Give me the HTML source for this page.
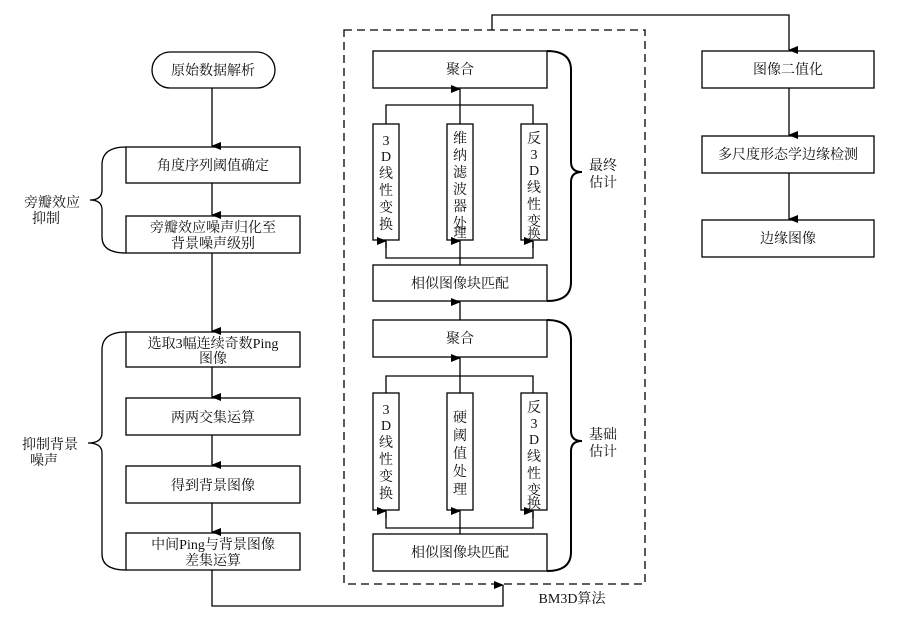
<!DOCTYPE html>
<html><head><meta charset="utf-8"><style>
body{margin:0;background:#fff;}
svg text{font-family:"Liberation Serif","Noto Serif CJK SC","Noto Sans CJK SC",serif;font-size:14px;fill:#111;}
</style></head><body>
<svg width="909" height="616" viewBox="0 0 909 616" xmlns="http://www.w3.org/2000/svg">
<defs><marker id="a" markerWidth="8" markerHeight="10" refX="4" refY="9" orient="auto" markerUnits="userSpaceOnUse" viewBox="0 0 8 10"><path d="M0,0 L8,0 L4,10 z" fill="#000"/></marker>
<marker id="u" markerWidth="8" markerHeight="10" refX="4" refY="1" orient="auto" markerUnits="userSpaceOnUse" viewBox="0 0 8 10"><path d="M0,10 L8,10 L4,0 z" fill="#000"/></marker></defs>
<g fill="none" stroke="#000" stroke-width="1.3">
<!-- left column -->
<rect x="152" y="52" width="123" height="36" rx="18" fill="#fff"/>
<line x1="212" y1="88" x2="212" y2="146" marker-end="url(#a)"/>
<rect x="126" y="147" width="174" height="36"/>
<line x1="212" y1="183" x2="212" y2="215" marker-end="url(#a)"/>
<rect x="126" y="216" width="174" height="37"/>
<line x1="212" y1="253" x2="212" y2="331" marker-end="url(#a)"/>
<rect x="126" y="332" width="174" height="35"/>
<line x1="212" y1="367" x2="212" y2="397" marker-end="url(#a)"/>
<rect x="126" y="398" width="174" height="37"/>
<line x1="212" y1="435" x2="212" y2="465" marker-end="url(#a)"/>
<rect x="126" y="466" width="174" height="37"/>
<line x1="212" y1="503" x2="212" y2="532" marker-end="url(#a)"/>
<rect x="126" y="533" width="174" height="37"/>
<polyline points="212,570 212,606 503,606 503,585" marker-end="url(#a)"/>
<path d="M126,147 Q102,147 102,165 L102,190 Q102,200 90,200 Q102,200 102,210 L102,237 Q102,253 126,253"/>
<path d="M126,332 Q102,332 102,350 L102,433 Q102,443 88,443 Q102,443 102,453 L102,554 Q102,570 126,570"/>
<!-- dashed -->
<rect x="344" y="30" width="301" height="554" stroke-dasharray="8,5"/>
<polyline points="492,30 492,15 789,15 789,50" marker-end="url(#a)"/>
<!-- upper block -->
<rect x="373" y="51" width="174" height="37"/>
<line x1="460" y1="124" x2="460" y2="89" marker-end="url(#a)"/>
<polyline points="386,124 386,105 533,105 533,124"/>
<rect x="373" y="124" width="26" height="116"/>
<rect x="447" y="124" width="26" height="116"/>
<rect x="521" y="124" width="26" height="116"/>
<line x1="460" y1="265" x2="460" y2="241" marker-end="url(#a)"/>
<polyline points="386,241 386,258 533,258 533,241"/>
<line x1="386" y1="248" x2="386" y2="241" marker-end="url(#a)"/>
<line x1="533" y1="248" x2="533" y2="241" marker-end="url(#a)"/>
<rect x="373" y="265" width="174" height="36"/>
<path d="M547,51 Q571,51 571,70 L571,162 Q571,172 582,172 Q571,172 571,182 L571,282 Q571,301 547,301" stroke-width="2"/>
<!-- lower block -->
<line x1="460" y1="320" x2="460" y2="302" marker-end="url(#a)"/>
<rect x="373" y="320" width="174" height="37"/>
<line x1="460" y1="393" x2="460" y2="358" marker-end="url(#a)"/>
<polyline points="386,393 386,376 533,376 533,393"/>
<rect x="373" y="393" width="26" height="117"/>
<rect x="447" y="393" width="26" height="117"/>
<rect x="521" y="393" width="26" height="117"/>
<line x1="460" y1="534" x2="460" y2="511" marker-end="url(#a)"/>
<polyline points="386,511 386,528 533,528 533,511"/>
<line x1="386" y1="518" x2="386" y2="511" marker-end="url(#a)"/>
<line x1="533" y1="518" x2="533" y2="511" marker-end="url(#a)"/>
<rect x="373" y="534" width="174" height="37"/>
<path d="M547,320 Q571,320 571,340 L571,431 Q571,441 582,441 Q571,441 571,451 L571,552 Q571,571 547,571" stroke-width="2"/>
<!-- right -->
<rect x="702" y="51" width="172" height="37"/>
<line x1="789" y1="88" x2="789" y2="135" marker-end="url(#a)"/>
<rect x="702" y="136" width="172" height="37"/>
<line x1="789" y1="173" x2="789" y2="219" marker-end="url(#a)"/>
<rect x="702" y="220" width="172" height="37"/>
</g>
<g text-anchor="middle">
<text x="213" y="75">原始数据解析</text>
<text x="213" y="170">角度序列阈值确定</text>
<text x="213" y="232">旁瓣效应噪声归化至</text>
<text x="213" y="248">背景噪声级别</text>
<text x="213" y="348">选取3幅连续奇数Ping</text>
<text x="213" y="363">图像</text>
<text x="213" y="422">两两交集运算</text>
<text x="213" y="490">得到背景图像</text>
<text x="213" y="549">中间Ping与背景图像</text>
<text x="213" y="565">差集运算</text>
<text x="52" y="207">旁瓣效应</text>
<text x="46" y="223">抑制</text>
<text x="50" y="449">抑制背景</text>
<text x="44" y="465">噪声</text>
<text x="460" y="74">聚合</text>
<text x="460" y="288">相似图像块匹配</text>
<text x="460" y="343">聚合</text>
<text x="460" y="557">相似图像块匹配</text>
<text x="603" y="170">最终</text>
<text x="603" y="187">估计</text>
<text x="603" y="439">基础</text>
<text x="603" y="456">估计</text>
<text x="572" y="603">BM3D算法</text>
<text x="788" y="74">图像二值化</text>
<text x="788" y="159">多尺度形态学边缘检测</text>
<text x="788" y="243">边缘图像</text>
</g>
<g text-anchor="middle">
<text x="386" y="145">3</text><text x="386" y="161">D</text><text x="386" y="178">线</text><text x="386" y="195">性</text><text x="386" y="212">变</text><text x="386" y="229">换</text>
<text x="460" y="143">维</text><text x="460" y="160">纳</text><text x="460" y="177">滤</text><text x="460" y="194">波</text><text x="460" y="211">器</text><text x="460" y="228">处</text><text x="460" y="232" dy="0"></text>
<text x="460" y="238" font-size="0"></text>
<text x="534" y="143">反</text><text x="534" y="159">3</text><text x="534" y="175">D</text><text x="534" y="192">线</text><text x="534" y="209">性</text><text x="534" y="226">变</text><text x="534" y="238" font-size="0"></text>
<text x="386" y="414">3</text><text x="386" y="430">D</text><text x="386" y="447">线</text><text x="386" y="464">性</text><text x="386" y="481">变</text><text x="386" y="498">换</text>
<text x="460" y="422">硬</text><text x="460" y="440">阈</text><text x="460" y="458">值</text><text x="460" y="476">处</text><text x="460" y="494">理</text>
<text x="534" y="412">反</text><text x="534" y="428">3</text><text x="534" y="444">D</text><text x="534" y="461">线</text><text x="534" y="478">性</text><text x="534" y="495">变</text><text x="534" y="508" font-size="13">换</text>
</g>
<g text-anchor="middle" font-size="13">
<text x="460" y="237" style="font-size:13px">理</text>
<text x="534" y="238" style="font-size:13px">换</text>
</g>
</svg>
</body></html>
